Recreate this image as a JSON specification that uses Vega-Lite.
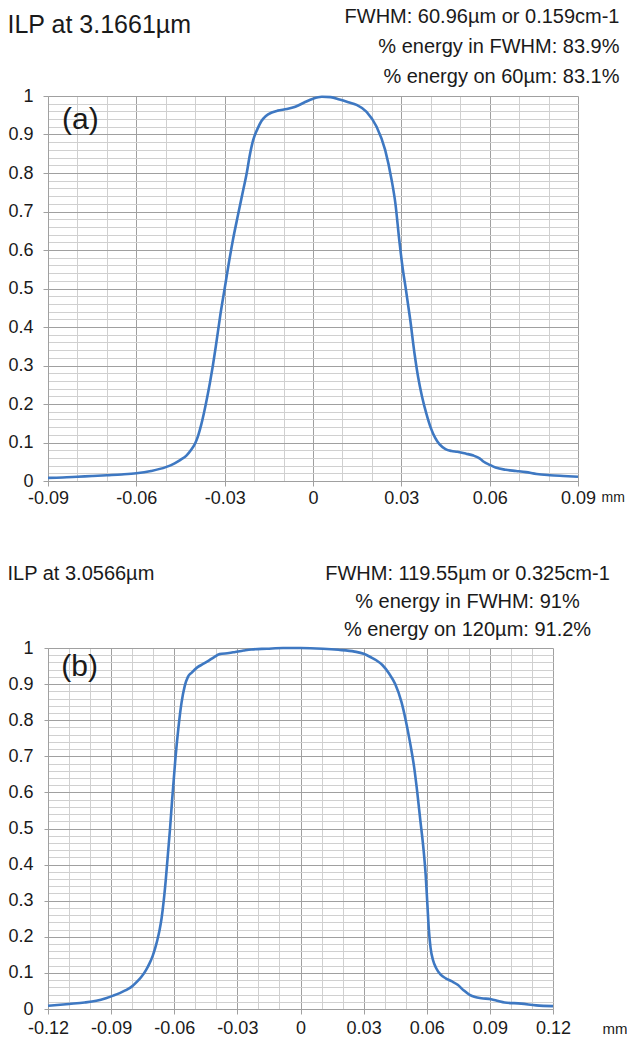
{
  "$schema": "https://vega.github.io/schema/vega-lite/v6.json",
  "background": "white",
  "padding": {"left": 7, "top": 6, "right": 0, "bottom": 0},
  "config": {
    "view": {"stroke": null},
    "font": "Liberation Sans",
    "axis": {"labelFont": "Liberation Sans", "titleFont": "Liberation Sans", "labelColor": "#1a1a1a", "titleColor": "#1a1a1a", "titleFontWeight": "normal", "labelOverlap": false, "labelFlush": false, "domainColor": "#a0a0a0", "tickColor": "#a0a0a0"}
  },
  "spacing": 56,
  "vconcat": [
    {
      "width": 530,
      "height": 385,
      "layer": [
        {
          "data": {"values": [
            {"x": -0.09, "y": 0.008}, {"x": -0.085, "y": 0.009}, {"x": -0.08, "y": 0.011}, {"x": -0.075, "y": 0.013},
            {"x": -0.07, "y": 0.015}, {"x": -0.065, "y": 0.017}, {"x": -0.06, "y": 0.020}, {"x": -0.055, "y": 0.026},
            {"x": -0.05, "y": 0.036}, {"x": -0.047, "y": 0.046}, {"x": -0.045, "y": 0.055}, {"x": -0.043, "y": 0.066},
            {"x": -0.0415, "y": 0.080}, {"x": -0.040, "y": 0.098}, {"x": -0.039, "y": 0.118}, {"x": -0.038, "y": 0.145},
            {"x": -0.037, "y": 0.178}, {"x": -0.036, "y": 0.215}, {"x": -0.035, "y": 0.255}, {"x": -0.034, "y": 0.30},
            {"x": -0.033, "y": 0.35}, {"x": -0.0315, "y": 0.43}, {"x": -0.030, "y": 0.50}, {"x": -0.0285, "y": 0.57},
            {"x": -0.0272, "y": 0.626}, {"x": -0.0255, "y": 0.69}, {"x": -0.0237, "y": 0.756}, {"x": -0.0225, "y": 0.80},
            {"x": -0.0215, "y": 0.845}, {"x": -0.0203, "y": 0.886}, {"x": -0.019, "y": 0.912}, {"x": -0.0175, "y": 0.935},
            {"x": -0.016, "y": 0.948}, {"x": -0.014, "y": 0.957}, {"x": -0.012, "y": 0.962},
            {"x": -0.0089, "y": 0.966}, {"x": -0.006, "y": 0.972}, {"x": -0.003, "y": 0.983}, {"x": 0.0, "y": 0.993},
            {"x": 0.003, "y": 0.998}, {"x": 0.006, "y": 0.997}, {"x": 0.009, "y": 0.991}, {"x": 0.012, "y": 0.984},
            {"x": 0.0148, "y": 0.977}, {"x": 0.0182, "y": 0.959}, {"x": 0.0216, "y": 0.920}, {"x": 0.0245, "y": 0.860},
            {"x": 0.0267, "y": 0.782}, {"x": 0.028, "y": 0.72}, {"x": 0.0293, "y": 0.626}, {"x": 0.0305, "y": 0.55},
            {"x": 0.0315, "y": 0.50}, {"x": 0.033, "y": 0.42}, {"x": 0.0345, "y": 0.33}, {"x": 0.0357, "y": 0.27},
            {"x": 0.037, "y": 0.22}, {"x": 0.0385, "y": 0.175}, {"x": 0.040, "y": 0.138}, {"x": 0.0415, "y": 0.112},
            {"x": 0.043, "y": 0.095}, {"x": 0.045, "y": 0.083}, {"x": 0.047, "y": 0.078}, {"x": 0.049, "y": 0.076}, {"x": 0.052, "y": 0.071},
            {"x": 0.0545, "y": 0.066}, {"x": 0.0567, "y": 0.058}, {"x": 0.058, "y": 0.05}, {"x": 0.060, "y": 0.042},
            {"x": 0.062, "y": 0.035}, {"x": 0.0655, "y": 0.029}, {"x": 0.069, "y": 0.026}, {"x": 0.0723, "y": 0.023},
            {"x": 0.076, "y": 0.018}, {"x": 0.0805, "y": 0.015}, {"x": 0.085, "y": 0.013}, {"x": 0.09, "y": 0.011}
          ]},
          "mark": {"type": "line", "color": "#3e78c2", "strokeWidth": 2.6, "interpolate": "monotone"},
          "encoding": {
            "x": {
              "field": "x", "type": "quantitative",
              "scale": {"domain": [-0.09, 0.09], "nice": false, "zero": false},
              "axis": {
                "values": [-0.09, -0.08, -0.07, -0.06, -0.05, -0.04, -0.03, -0.02, -0.01, 0, 0.01, 0.02, 0.03, 0.04, 0.05, 0.06, 0.07, 0.08, 0.09],
                "grid": true,
                "gridColor": {"condition": {"test": "round(datum.value*100)%3==0", "value": "#a0a0a0"}, "value": "#d0d0d0"},
                "tickOpacity": {"condition": {"test": "round(datum.value*100)%3==0", "value": 1}, "value": 0},
                "tickSize": 5,
                "labelExpr": "round(datum.value*100)%3==0 ? toString(datum.value) : ''",
                "labelFontSize": 18,
                "labelPadding": 3,
                "title": "mm",
                "titleFontSize": 14,
                "titleAlign": "left",
                "titleBaseline": "alphabetic",
                "titleX": 553,
                "titleY": 20
              }
            },
            "y": {
              "field": "y", "type": "quantitative",
              "scale": {"domain": [0, 1], "nice": false},
              "axis": {
                "values": [0,0.02,0.04,0.06,0.08,0.1,0.12,0.14,0.16,0.18,0.2,0.22,0.24,0.26,0.28,0.3,0.32,0.34,0.36,0.38,0.4,0.42,0.44,0.46,0.48,0.5,0.52,0.54,0.56,0.58,0.6,0.62,0.64,0.66,0.68,0.7,0.72,0.74,0.76,0.78,0.8,0.82,0.84,0.86,0.88,0.9,0.92,0.94,0.96,0.98,1],
                "grid": true,
                "gridColor": {"condition": {"test": "round(datum.value*100)%10==0", "value": "#a0a0a0"}, "value": "#d0d0d0"},
                "tickOpacity": {"condition": {"test": "round(datum.value*100)%10==0", "value": 1}, "value": 0},
                "tickSize": 5,
                "labelExpr": "round(datum.value*100)%10==0 ? toString(datum.value) : ''",
                "labelFontSize": 18,
                "labelPadding": 10,
                "title": "ILP at 3.1661µm",
                "titleFontSize": 25,
                "titleAngle": 0,
                "titleAlign": "left",
                "titleBaseline": "alphabetic",
                "titleX": -41,
                "titleY": -64
              }
            }
          }
        },
        {
          "data": {"values": [{"label": "(a)"}]},
          "mark": {"type": "text", "fontSize": 30, "font": "Liberation Sans", "color": "#1a1a1a", "align": "center", "baseline": "middle"},
          "encoding": {
            "x": {
              "datum": -0.079, "type": "quantitative",
              "axis": {
                "orient": "top", "labels": false, "ticks": false, "domain": false, "grid": false,
                "title": ["FWHM: 60.96µm or 0.159cm-1", "% energy in FWHM: 83.9%", "% energy on 60µm: 83.1%"],
                "titleFontSize": 20,
                "titleLineHeight": 30,
                "titleAlign": "right",
                "titleBaseline": "alphabetic",
                "titleX": 571,
                "titleY": -74
              }
            },
            "y": {"datum": 0.938, "type": "quantitative", "axis": null},
            "text": {"field": "label"}
          }
        }
      ],
      "resolve": {"axis": {"x": "independent", "y": "independent"}}
    },
    {
      "width": 505,
      "height": 361,
      "layer": [
        {
          "data": {"values": [
            {"x": -0.12, "y": 0.009}, {"x": -0.11, "y": 0.014}, {"x": -0.1026, "y": 0.018}, {"x": -0.097, "y": 0.023},
            {"x": -0.0925, "y": 0.030}, {"x": -0.089, "y": 0.037}, {"x": -0.0859, "y": 0.044}, {"x": -0.083, "y": 0.052},
            {"x": -0.0802, "y": 0.062}, {"x": -0.0778, "y": 0.075}, {"x": -0.0755, "y": 0.090}, {"x": -0.0735, "y": 0.107},
            {"x": -0.0717, "y": 0.127}, {"x": -0.0702, "y": 0.148}, {"x": -0.069, "y": 0.170}, {"x": -0.068, "y": 0.192},
            {"x": -0.067, "y": 0.218}, {"x": -0.066, "y": 0.252}, {"x": -0.065, "y": 0.30}, {"x": -0.064, "y": 0.36},
            {"x": -0.063, "y": 0.43}, {"x": -0.062, "y": 0.50},
            {"x": -0.061, "y": 0.58}, {"x": -0.0595, "y": 0.69}, {"x": -0.058, "y": 0.78}, {"x": -0.0565, "y": 0.85},
            {"x": -0.055, "y": 0.895}, {"x": -0.0535, "y": 0.92}, {"x": -0.0517, "y": 0.932}, {"x": -0.0489, "y": 0.947},
            {"x": -0.0465, "y": 0.955}, {"x": -0.0442, "y": 0.963}, {"x": -0.041, "y": 0.975}, {"x": -0.0385, "y": 0.983},
            {"x": -0.034, "y": 0.986}, {"x": -0.031, "y": 0.989}, {"x": -0.027, "y": 0.993}, {"x": -0.0234, "y": 0.996},
            {"x": -0.016, "y": 0.998}, {"x": -0.0083, "y": 1.0}, {"x": 0.0, "y": 1.0}, {"x": 0.0106, "y": 0.998},
            {"x": 0.018, "y": 0.995}, {"x": 0.0257, "y": 0.99}, {"x": 0.030, "y": 0.984}, {"x": 0.0332, "y": 0.975},
            {"x": 0.036, "y": 0.966}, {"x": 0.0389, "y": 0.953}, {"x": 0.042, "y": 0.93}, {"x": 0.045, "y": 0.90},
            {"x": 0.048, "y": 0.85}, {"x": 0.050, "y": 0.80}, {"x": 0.052, "y": 0.74}, {"x": 0.054, "y": 0.67},
            {"x": 0.0555, "y": 0.60}, {"x": 0.057, "y": 0.52}, {"x": 0.0585, "y": 0.44}, {"x": 0.0595, "y": 0.37},
            {"x": 0.0603, "y": 0.29}, {"x": 0.061, "y": 0.22}, {"x": 0.0618, "y": 0.17}, {"x": 0.063, "y": 0.135},
            {"x": 0.0645, "y": 0.113}, {"x": 0.0665, "y": 0.096}, {"x": 0.069, "y": 0.085}, {"x": 0.0718, "y": 0.077},
            {"x": 0.0747, "y": 0.067}, {"x": 0.0775, "y": 0.052}, {"x": 0.0804, "y": 0.039}, {"x": 0.083, "y": 0.033},
            {"x": 0.086, "y": 0.030}, {"x": 0.0906, "y": 0.027}, {"x": 0.094, "y": 0.022}, {"x": 0.097, "y": 0.018},
            {"x": 0.1049, "y": 0.015}, {"x": 0.112, "y": 0.010}, {"x": 0.12, "y": 0.008}
          ]},
          "mark": {"type": "line", "color": "#3e78c2", "strokeWidth": 2.6, "interpolate": "monotone"},
          "encoding": {
            "x": {
              "field": "x", "type": "quantitative",
              "scale": {"domain": [-0.12, 0.12], "nice": false, "zero": false},
              "axis": {
                "values": [-0.12, -0.11, -0.1, -0.09, -0.08, -0.07, -0.06, -0.05, -0.04, -0.03, -0.02, -0.01, 0, 0.01, 0.02, 0.03, 0.04, 0.05, 0.06, 0.07, 0.08, 0.09, 0.1, 0.11, 0.12],
                "grid": true,
                "gridColor": {"condition": {"test": "round(datum.value*100)%3==0", "value": "#a0a0a0"}, "value": "#d0d0d0"},
                "tickOpacity": {"condition": {"test": "round(datum.value*100)%3==0", "value": 1}, "value": 0},
                "tickSize": 5,
                "labelExpr": "round(datum.value*100)%3==0 ? toString(datum.value) : ''",
                "labelFontSize": 18,
                "labelPadding": 5,
                "title": "mm",
                "titleFontSize": 15,
                "titleAlign": "left",
                "titleBaseline": "alphabetic",
                "titleX": 554,
                "titleY": 24
              }
            },
            "y": {
              "field": "y", "type": "quantitative",
              "scale": {"domain": [0, 1], "nice": false},
              "axis": {
                "values": [0,0.02,0.04,0.06,0.08,0.1,0.12,0.14,0.16,0.18,0.2,0.22,0.24,0.26,0.28,0.3,0.32,0.34,0.36,0.38,0.4,0.42,0.44,0.46,0.48,0.5,0.52,0.54,0.56,0.58,0.6,0.62,0.64,0.66,0.68,0.7,0.72,0.74,0.76,0.78,0.8,0.82,0.84,0.86,0.88,0.9,0.92,0.94,0.96,0.98,1],
                "grid": true,
                "gridColor": {"condition": {"test": "round(datum.value*100)%10==0", "value": "#a0a0a0"}, "value": "#d0d0d0"},
                "tickOpacity": {"condition": {"test": "round(datum.value*100)%10==0", "value": 1}, "value": 0},
                "tickSize": 4,
                "labelExpr": "round(datum.value*100)%10==0 ? toString(datum.value) : ''",
                "labelFontSize": 18,
                "labelPadding": 11,
                "title": "ILP at 3.0566µm",
                "titleFontSize": 20,
                "titleAngle": 0,
                "titleAlign": "left",
                "titleBaseline": "alphabetic",
                "titleX": -41,
                "titleY": -69
              }
            }
          }
        },
        {
          "data": {"values": [{"label": "(b)"}]},
          "mark": {"type": "text", "fontSize": 30, "font": "Liberation Sans", "color": "#1a1a1a", "align": "center", "baseline": "middle"},
          "encoding": {
            "x": {
              "datum": -0.105, "type": "quantitative",
              "axis": {
                "orient": "top", "labels": false, "ticks": false, "domain": false, "grid": false,
                "title": ["FWHM: 119.55µm or 0.325cm-1", "% energy in FWHM: 91%", "% energy on 120µm: 91.2%"],
                "titleFontSize": 20,
                "titleLineHeight": 28,
                "titleAlign": "center",
                "titleBaseline": "alphabetic",
                "titleX": 419,
                "titleY": -69
              }
            },
            "y": {"datum": 0.947, "type": "quantitative", "axis": null},
            "text": {"field": "label"}
          }
        }
      ],
      "resolve": {"axis": {"x": "independent", "y": "independent"}}
    }
  ]
}
